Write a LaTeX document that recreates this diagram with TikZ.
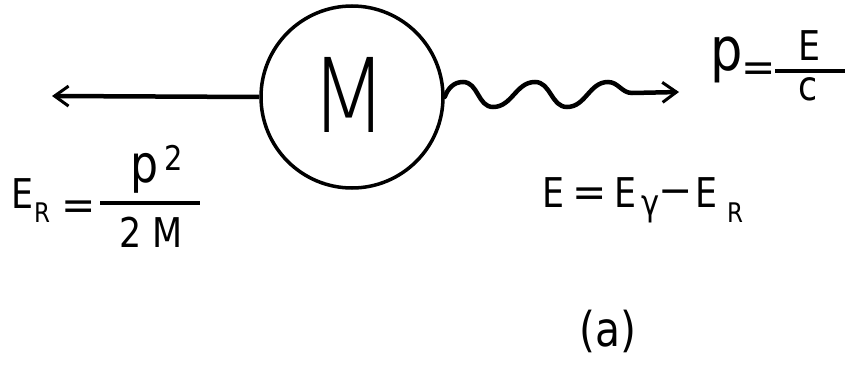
\documentclass[tikz,border=0pt]{standalone}
\usepackage{fontspec}
\setmainfont{DejaVu Sans}
\newfontfamily\thinfont{DejaVu Sans ExtraLight}
\usetikzlibrary{arrows.meta}

\begin{document}
\begin{tikzpicture}[x=1pt, y=-1pt,
  txt/.style={inner sep=0pt, anchor=base, xscale=0.85,
              font=\fontsize{41}{41}\selectfont},
  sub/.style={txt, font=\fontsize{27}{27}\selectfont},
  big/.style={txt, font=\fontsize{52}{52}\selectfont},
  sym/.style={inner sep=0pt, font=\fontsize{41}{41}\selectfont},
  arr/.style={-{Straight Barb[length=14pt,width=20pt,line width=3pt]},
              line width=4.5pt},
  bar/.style={line width=3.5pt}
]
\useasboundingbox (0,0) rectangle (848,364);
\fill[white] (0,0) rectangle (848,364);

% Nucleus
\node[circle, draw, line width=3.5pt, minimum size=182pt, inner sep=0pt]
     (mass) at (352,97) {};
\node[inner sep=0pt, xscale=0.87, font=\thinfont\fontsize{103}{103}\selectfont]
     (mlabel) at (349,95) {M};

% Recoil
\coordinate (recoil) at (52,96);
\draw[arr] (mass.west) -- (recoil);

% Photon
\coordinate (photon) at (679,92);
\draw[arr, line cap=round] (mass.east) to[out=70,in=180] (463,82)
  to[out=0,in=180] (493,107) to[out=0,in=180] (535,82)
  to[out=0,in=180] (567,107) to[out=0,in=180] (608,82)
  to[out=0,in=180] (632,93) -- (photon);

% p = E/c
\node[big, font=\fontsize{60}{60}\selectfont] (pmom) at (727,70) {p};
\node[sym] (eq1) at (759,72) {=};
\coordinate (bar1l) at (775,71);
\coordinate (bar1r) at (845,71);
\draw[bar] (bar1l) -- (bar1r);
\node[txt] (enum) at (809,60) {E};
\node[txt] (cden) at (808,100) {c};

% E_R = p^2/2M
\node[txt] (er) at (23,208) {E};
\node[sub] (ersub) at (42,222) {R};
\node[sym] (eq2) at (79,210) {=};
\coordinate (bar2l) at (100,203);
\coordinate (bar2r) at (200,203);
\draw[bar] (bar2l) -- (bar2r);
\node[big] (pnum) at (145,182) {p};
\node[sub, font=\fontsize{34}{34}\selectfont] (sq) at (174,170) {2};
\node[txt] (mden) at (151,247) {2 M};

% E = E_gamma - E_R
\node[txt] (e) at (554,207) {E};
\node[sym] (eq3) at (590,197) {=};
\node[txt] (eg) at (626,207) {E};
\node[txt, font=\fontsize{36}{36}\selectfont] (gam) at (651,215) {γ};
\node[sym] (minus) at (676,197) {−};
\node[txt] (er2) at (706,207) {E};
\node[sub] (er2sub) at (735,222) {R};

% caption
\node[txt, font=\fontsize{48}{48}\selectfont] (caption) at (608,346) {(a)};

\end{tikzpicture}
\end{document}
